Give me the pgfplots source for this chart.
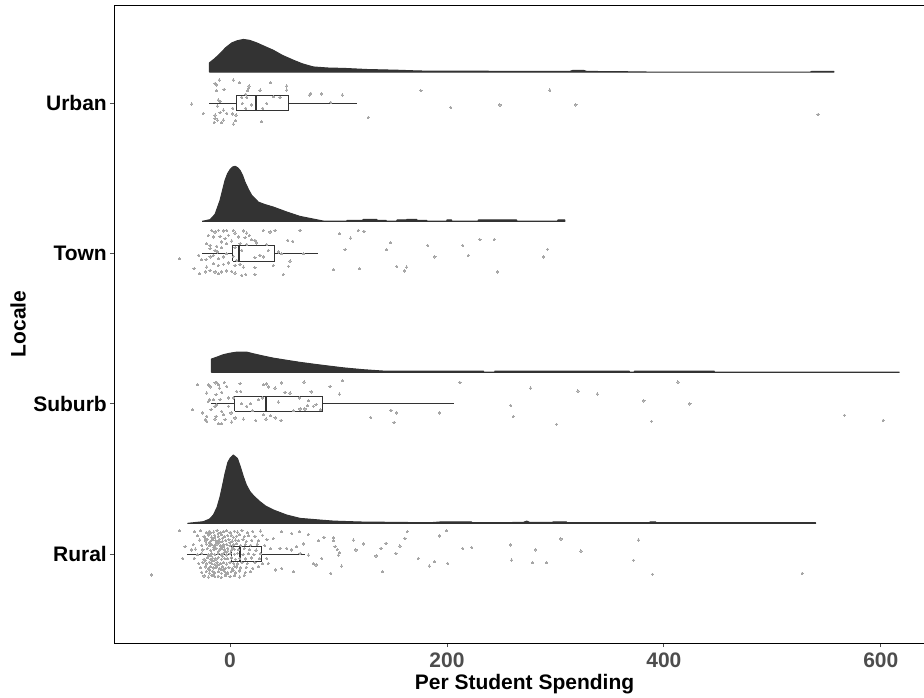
\documentclass[border=0pt]{standalone}
\usepackage{fontspec}
\setmainfont{Liberation Sans}
\usepackage{pgfplots}
\pgfplotsset{compat=1.18}
\definecolor{dens}{HTML}{333333}
\definecolor{ptc}{HTML}{A6A6A6}
\definecolor{boxc}{HTML}{333333}
\definecolor{tickc}{HTML}{4D4D4D}
\begin{document}
\begin{tikzpicture}[x=1pt,y=1pt]
\begin{axis}[
 at={(114pt,54pt)}, anchor=south west,
 scale only axis, width=821pt, height=638pt,
 xmin=-107, xmax=650, ymin=0.408, ymax=4.652,
 axis line style={black, line width=0.9pt},
 xtick={0,200,400,600}, ytick={1,2,3,4}, yticklabels={Rural,Suburb,Town,Urban},
 tick pos=left, tick align=outside, major tick length=4pt,
 tick style={tickc, line width=0.9pt},
 /pgf/number format/assume math mode=true,
 xticklabel style={font=\fontsize{21}{25}\selectfont\bfseries, text=tickc, inner sep=0pt, yshift=-6pt},
 yticklabel style={font=\fontsize{21}{25}\selectfont\bfseries, text=black, inner sep=0pt, xshift=-3pt},
 dens/.style={fill=dens, draw=dens, line width=1pt, line join=round},
 pts/.style={only marks, color=ptc, mark=*, mark size=1.1pt, mark options={draw=ptc, fill=ptc, line width=0pt}},
 bx/.style={draw=boxc, line width=0.8pt},
 med/.style={draw=boxc, line width=2pt},
]
% ---------- densities ----------
\addplot[dens] coordinates {(-19.1,4.205) (-19.1,4.267) (-14,4.296) (-9.2,4.329) (-4,4.368) (1.6,4.400) (6.5,4.414) (12.3,4.423) (18,4.417) (24.6,4.400) (32,4.376) (39.9,4.351) (48,4.318) (58.3,4.285) (67,4.260) (76.8,4.240) (90,4.233) (106,4.230) (126,4.223) (155,4.218) (175,4.213) (249,4.211) (313,4.210) (316,4.217) (326,4.217) (329,4.210) (356,4.209) (387,4.206) (535,4.206) (536.6,4.211) (556.7,4.211) (556.7,4.205) (-19.1,4.205)};
\addplot[dens] coordinates {(-25.8,3.213) (-18.4,3.224) (-13.8,3.260) (-9.2,3.353) (-4.6,3.486) (-2.3,3.530) (0,3.557) (2.3,3.574) (4.6,3.579) (7,3.570) (9.2,3.552) (11.5,3.520) (13.8,3.474) (17,3.425) (20,3.386) (26.1,3.341) (32,3.325) (39.9,3.308) (52.3,3.275) (64.5,3.246) (76.8,3.228) (86,3.215) (107.5,3.215) (108,3.220) (122,3.220) (123,3.226) (135,3.226) (136,3.220) (143.8,3.220) (144,3.215) (153.6,3.215) (154,3.222) (162.9,3.222) (163,3.226) (172,3.226) (172.5,3.220) (181.3,3.220) (181.5,3.215) (199.7,3.215) (200,3.222) (204.3,3.222) (204.5,3.215) (228.6,3.215) (229,3.222) (264.2,3.222) (264.5,3.215) (302,3.215) (302.3,3.222) (308.8,3.222) (308.8,3.213) (-25.8,3.213)};
\addplot[dens] coordinates {(-17.2,2.208) (-17.2,2.297) (-12,2.310) (-6.2,2.326) (0,2.336) (6.2,2.343) (15.4,2.343) (21.5,2.332) (30,2.318) (39.9,2.303) (52,2.289) (64.5,2.275) (77,2.263) (89.1,2.252) (105,2.238) (122.9,2.226) (141.3,2.217) (233.5,2.217) (234,2.210) (244,2.210) (244.2,2.217) (368,2.217) (368.5,2.210) (372.5,2.210) (373,2.217) (446.4,2.217) (446.6,2.210) (616.9,2.210) (616.9,2.208) (-17.2,2.208)};
\addplot[dens] coordinates {(-39.3,1.204) (-24.6,1.215) (-19,1.232) (-15.4,1.259) (-12,1.310) (-9.2,1.381) (-6.8,1.460) (-4.6,1.537) (-2,1.610) (0,1.636) (3.0,1.659) (6.8,1.636) (9.5,1.580) (12.3,1.515) (15,1.460) (18.4,1.415) (22,1.385) (27.6,1.348) (33,1.318) (39.9,1.293) (52.3,1.259) (64.5,1.237) (82.9,1.226) (95.2,1.219) (119.8,1.213) (184.3,1.208) (193.5,1.213) (222.8,1.213) (223,1.208) (270.3,1.210) (273.5,1.219) (276.5,1.210) (297.4,1.210) (297.6,1.213) (310.3,1.213) (310.5,1.208) (387,1.208) (387.2,1.213) (392.6,1.213) (392.8,1.208) (540,1.208) (540,1.204) (-39.3,1.204)};
% ---------- points: Urban ----------
\addplot[pts] table {
x y
-13.8 4.131
-12.3 4.120
-9.9 4.153
3.0 4.153
8.6 4.135
17.5 4.113
16.9 4.098
37.5 4.135
52.3 4.113
52.3 4.086
-5.5 4.091
-12.3 4.082
14.5 4.058
16.3 4.082
27.7 4.086
10.8 4.038
15.4 4.038
39.9 4.042
46.1 4.038
74.4 4.065
73.1 4.053
84.5 4.060
103.5 4.053
-35.3 3.993
-10.8 4.020
-9.2 4.009
-11.7 3.980
11.3 3.998
20.0 3.987
33.8 3.998
92.8 4.005
2.5 3.965
14.5 3.965
30.1 3.965
-24.6 3.931
-13.8 3.920
-6.2 3.953
-3.0 3.931
-9.2 3.936
5.5 3.920
2.5 3.927
-13.8 3.898
-11.7 3.887
-6.2 3.887
-7.7 3.869
-14.7 3.871
5.2 3.883
3.0 3.860
29.2 3.876
127.5 3.905
176.0 4.082
203.4 3.971
248.9 3.987
294.9 4.086
318.9 3.987
542.2 3.925
};
% ---------- points: Town ----------
\addplot[pts] table {
x y
-16.9 3.153
-13.8 3.142
-10.7 3.153
-6.1 3.149
-3.1 3.153
3.1 3.153
4.6 3.135
12.3 3.149
15.4 3.135
17.8 3.120
30.7 3.153
36.9 3.142
41.5 3.153
64.5 3.153
-20.0 3.120
-15.4 3.109
-9.2 3.113
-4.6 3.098
-1.5 3.120
7.7 3.109
13.8 3.104
20.0 3.091
23.0 3.087
53.2 3.087
57.8 3.080
-21.5 3.064
-18.4 3.053
-12.3 3.047
-7.7 3.076
-3.1 3.064
1.5 3.082
9.2 3.064
15.4 3.060
24.6 3.069
33.8 3.060
-18.4 3.031
-13.8 3.020
-11.7 3.009
-7.7 3.038
-3.1 2.998
4.6 3.038
10.8 3.020
27.6 2.987
35.3 3.020
44.5 3.009
-28.9 2.987
-26.1 2.958
-22.1 2.958
-18.4 2.976
-15.4 2.987
-10.7 2.965
-6.1 2.976
3.1 2.980
6.1 2.954
23.0 2.971
30.7 2.976
47.6 2.998
55.3 2.949
67.6 2.998
-33.2 2.898
-21.5 2.909
-15.4 2.931
-10.7 2.920
-6.1 2.927
-1.5 2.936
4.6 2.920
9.2 2.927
12.3 2.909
23.0 2.905
39.9 2.920
53.8 2.914
-28.3 2.865
-23.0 2.876
-18.4 2.887
-13.8 2.876
-10.7 2.865
-7.7 2.876
-3.1 2.883
1.5 2.880
4.6 2.869
10.8 2.854
14.4 2.860
23.0 2.860
49.2 2.860
-46.7 2.965
100.8 3.131
111.2 3.102
118.3 3.153
123.5 3.147
106.0 3.024
95.2 2.891
119.2 2.898
148.1 3.071
144.4 3.024
153.6 2.914
160.7 2.883
162.8 2.909
182.2 3.053
188.9 2.976
214.5 3.053
219.7 2.987
230.4 3.091
243.6 3.093
246.4 2.876
288.8 2.976
292.8 3.027
};
% ---------- points: Suburb ----------
\addplot[pts] table {
x y
-29.8 2.126
-20.0 2.126
-18.4 2.111
-13.8 2.138
-12.3 2.142
-10.8 2.126
-9.8 2.104
-5.2 2.142
-3.1 2.115
-7.7 2.076
-12.9 2.060
-21.5 2.071
6.1 2.082
9.8 2.082
9.2 2.133
30.7 2.126
33.8 2.131
35.3 2.111
41.5 2.104
47.6 2.138
50.7 2.076
55.3 2.071
68.2 2.144
74.7 2.078
92.2 2.115
100.8 2.064
103.5 2.153
-19.0 2.027
-20.0 2.016
-15.4 2.027
-9.2 2.027
-12.3 1.994
-1.5 2.038
3.1 2.038
10.8 2.000
15.4 1.983
19.0 2.000
26.1 2.027
30.1 2.038
44.5 2.011
63.9 2.038
72.2 2.020
71.6 1.987
76.8 1.983
79.3 1.994
83.6 1.960
-34.4 1.960
-25.2 1.938
-21.5 1.916
-17.5 1.960
-13.8 1.983
-12.9 1.916
-7.7 1.949
-6.1 1.927
-1.5 1.983
0.9 1.938
4.6 1.905
12.3 1.898
20.6 1.954
23.7 1.889
30.7 1.927
33.2 1.898
37.5 1.920
41.5 1.905
47.0 1.889
58.4 1.954
64.5 1.965
69.1 1.965
-23.0 1.894
-13.8 1.898
-10.8 1.867
-7.7 1.867
-4.6 1.894
1.5 1.878
-21.5 1.883
129.6 1.909
148.4 1.956
151.2 1.876
153.6 1.938
192.9 1.938
212.0 2.142
258.7 1.989
261.2 1.916
277.1 2.104
320.8 2.084
338.6 2.064
301.1 1.863
381.6 2.018
388.7 1.883
413.0 2.144
424.0 1.998
566.6 1.923
602.2 1.889
};
% ---------- points: Rural ----------
\addplot[pts] table {
x y
-72.2 0.861
-46.7 1.155
-43.6 0.971
-41.5 1.049
-35.3 1.027
39.9 1.104
47.6 1.149
56.8 1.138
63.9 1.149
72.2 1.131
81.4 1.089
86.6 1.111
95.2 1.109
95.2 1.089
72.2 0.993
76.8 0.938
79.3 0.927
84.5 0.971
64.5 1.004
56.8 1.027
61.4 1.049
67.6 1.067
58.4 0.883
47.6 0.905
42.1 0.894
35.3 0.938
33.8 0.971
52.2 1.038
46.1 1.038
92.8 0.872
96.8 1.049
98.9 1.031
100.8 1.009
99.9 0.993
102.9 0.920
113.7 1.093
116.1 1.027
122.9 1.067
134.6 0.987
139.2 1.038
143.8 1.071
140.7 0.883
153.0 1.004
156.7 1.053
161.3 1.104
163.4 1.149
173.6 0.971
183.7 0.920
188.3 0.949
193.0 1.120
199.7 1.155
200.6 0.938
214.5 1.038
222.7 1.044
258.7 1.060
259.6 0.960
279.0 0.942
282.0 1.027
291.9 0.942
305.1 1.100
323.5 1.020
376.6 1.093
372.0 0.958
389.5 0.865
527.5 0.871
-33 1.148
-27 1.155
-22 1.143
-19 1.152
-15 1.146
-12 1.157
-9 1.141
-6 1.150
-3 1.155
0 1.144
4 1.152
7 1.146
11 1.156
16 1.142
21 1.150
28 1.153
-30 1.121
-24 1.116
-20 1.127
-17 1.113
-14 1.124
-11 1.118
-8 1.129
-5 1.115
-2 1.122
1 1.126
3 1.112
6 1.119
9 1.128
13 1.115
17 1.123
23 1.118
30 1.125
-28 1.093
-23 1.087
-21 1.097
-18 1.085
-16 1.094
-13 1.088
-10 1.098
-7 1.084
-4 1.091
-1 1.096
2 1.086
5 1.093
8 1.089
12 1.097
15 1.084
20 1.092
26 1.088
34 1.095
-34 1.062
-26 1.058
-22 1.066
-19 1.055
-17 1.063
-14 1.057
-12 1.067
-9 1.054
-6 1.061
-3 1.065
0 1.056
3 1.062
6 1.068
10 1.055
14 1.063
19 1.059
25 1.066
32 1.057
-32 1.033
-25 1.027
-21 1.036
-18 1.024
-15 1.031
-13 1.038
-10 1.026
-8 1.034
-5 1.029
-2 1.037
1 1.025
4 1.032
8 1.028
13 1.035
18 1.030
24 1.026
37 1.034
-30 0.997
-26 1.004
-20 0.994
-17 1.002
-14 0.996
-11 1.006
-8 0.998
-6 1.005
-3 0.994
0 1.003
4 0.999
7 1.005
12 0.995
17 1.002
22 0.996
28 1.003
-33 0.972
-24 0.966
-21 0.975
-18 0.964
-16 0.973
-13 0.967
-11 0.976
-8 0.965
-5 0.971
-2 0.968
1 0.974
5 0.965
9 0.972
14 0.967
20 0.974
27 0.969
-29 0.937
-25 0.943
-22 0.934
-19 0.946
-17 0.938
-14 0.932
-12 0.944
-9 0.936
-6 0.942
-3 0.933
0 0.945
3 0.939
7 0.934
11 0.942
16 0.937
23 0.944
30 0.936
-27 0.908
-23 0.914
-20 0.903
-18 0.916
-15 0.907
-13 0.912
-10 0.904
-7 0.915
-4 0.906
-1 0.911
2 0.903
6 0.914
10 0.907
15 0.912
21 0.905
26 0.915
-26 0.878
-22 0.884
-19 0.873
-16 0.886
-14 0.876
-11 0.881
-8 0.872
-5 0.885
-2 0.877
1 0.882
5 0.874
9 0.887
14 0.876
19 0.881
-24 0.854
-20 0.847
-17 0.858
-14 0.849
-11 0.853
-8 0.845
-4 0.856
0 0.850
4 0.855
9 0.847
13 0.859
-20 1.135
-16 1.105
-12 1.075
-8 1.045
-4 1.015
-20 0.985
-16 0.955
-12 0.925
-8 0.895
-4 0.865
-18 1.140
-14 1.110
-10 1.080
-6 1.050
-2 1.020
-18 0.990
-14 0.960
-10 0.930
-6 0.900
-2 0.870
-23 1.105
-19 1.075
-15 1.045
-11 1.015
-7 0.985
-23 0.955
-19 0.895
-15 0.865
-11 1.135
-7 1.105
0 1.075
2 1.040
4 0.920
3 0.890
};
% ---------- box plots ----------
\addplot[bx] coordinates {(6.2,3.949) (53.8,3.949) (53.8,4.051) (6.2,4.051) (6.2,3.949)};
\addplot[bx] coordinates {(-19,4) (6.2,4)};
\addplot[bx] coordinates {(53.8,4) (117.4,4)};
\addplot[med] coordinates {(23.7,3.949) (23.7,4.051)};
\addplot[bx] coordinates {(2.5,2.949) (41.3,2.949) (41.3,3.051) (2.5,3.051) (2.5,2.949)};
\addplot[bx] coordinates {(-25.8,3) (2.5,3)};
\addplot[bx] coordinates {(41.3,3) (81.4,3)};
\addplot[med] coordinates {(8.3,2.949) (8.3,3.051)};
\addplot[bx] coordinates {(4.3,1.949) (85.4,1.949) (85.4,2.051) (4.3,2.051) (4.3,1.949)};
\addplot[bx] coordinates {(-17.2,2) (4.3,2)};
\addplot[bx] coordinates {(85.4,2) (206.7,2)};
\addplot[med] coordinates {(33.5,1.949) (33.5,2.051)};
\addplot[bx] coordinates {(1.5,0.949) (29.2,0.949) (29.2,1.051) (1.5,1.051) (1.5,0.949)};
\addplot[bx] coordinates {(-39.3,1) (1.5,1)};
\addplot[bx] coordinates {(29.2,1) (68.8,1)};
\addplot[med] coordinates {(9.5,0.949) (9.5,1.051)};
\end{axis}
\node[rotate=90, font=\fontsize{21}{25}\selectfont\bfseries] at (18,373) {Locale};
\node[font=\fontsize{21}{25}\selectfont\bfseries] at (524.5,13) {Per Student Spending};
\pgfresetboundingbox
\path[use as bounding box] (0,0) rectangle (924,697);
\end{tikzpicture}
\end{document}
